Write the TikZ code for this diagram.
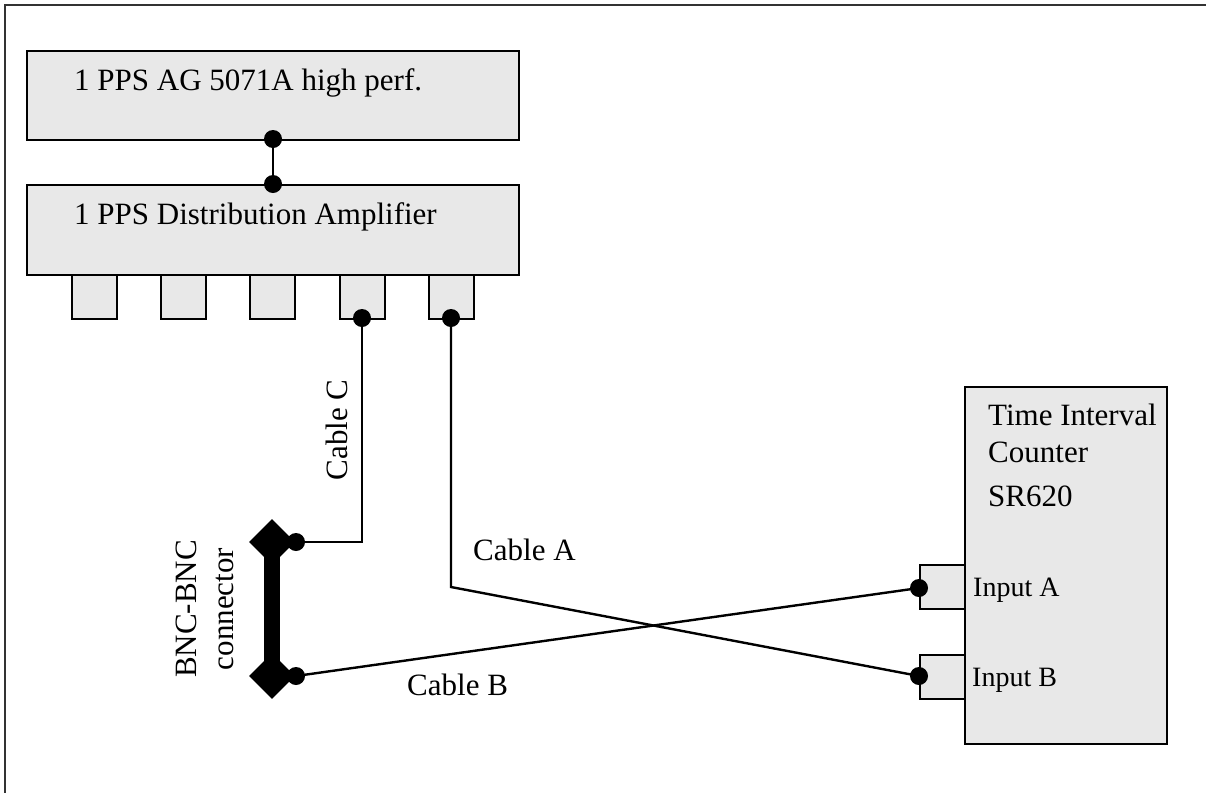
\documentclass[tikz,border=0pt]{standalone}
\usepackage{fontspec}
\setmainfont{Liberation Serif}
\usetikzlibrary{shapes.geometric}

\tikzset{
  unit/.style={draw=black, fill=black!9, line width=2.2pt, rectangle, inner sep=0pt, anchor=north west},
  port/.style={unit, minimum width=45pt, minimum height=44pt},
  plug/.style={circle, fill=black, inner sep=0pt, minimum size=18pt},
  cable/.style={line width=2.4pt, line join=miter},
  bnc/.style={diamond, fill=black, inner sep=0pt, minimum size=46pt},
  lbl/.style={font=\fontsize{31}{36}\selectfont, inner sep=0pt, anchor=base west},
  smalllbl/.style={font=\fontsize{28}{33}\selectfont, inner sep=0pt, anchor=base west},
  vlbl/.style={font=\fontsize{31}{36}\selectfont, inner sep=0pt, anchor=base, rotate=90},
}

\begin{document}
\begin{tikzpicture}[x=1pt, y=-1pt]
  \useasboundingbox (0,0) rectangle (1206,793);

  % page frame (only the top and left edges fall on the page)
  \draw[line width=2.4pt, black!80] (1206,5) -- (5,5) -- (5,793);

  % clock and distribution amplifier
  \node[unit, minimum width=492pt, minimum height=89pt] (clock) at (26,50) {};
  \node[lbl] (clocktxt) at (74,90) {1 PPS AG 5071A high perf.};
  \node[unit, minimum width=492pt, minimum height=90pt] (amp) at (26,184) {};
  \node[lbl] (amptxt) at (74,224) {1 PPS Distribution Amplifier};

  % amplifier outputs
  \node[port] (p1) at (71,274) {};
  \node[port] (p2) at (160,274) {};
  \node[port] (p3) at (249,274) {};
  \node[port] (p4) at (339,274) {};
  \node[port] (p5) at (428,274) {};

  % time interval counter
  \node[unit, minimum width=202pt, minimum height=357pt] (tic) at (964,386) {};
  \node[lbl] (tic1) at (988,425) {Time Interval};
  \node[lbl] (tic2) at (988,462) {Counter};
  \node[lbl] (tic3) at (988,506) {SR620};
  \node[port] (inA) at (919,564) {};
  \node[port] (inB) at (919,654) {};
  \node[smalllbl] (inAtxt) at (973,596) {Input A};
  \node[smalllbl] (inBtxt) at (972,686) {Input B};

  % BNC-BNC barrel
  \node[bnc] (bncT) at (272,542) {};
  \node[bnc] (bncB) at (272,676) {};
  \draw[line width=16pt] (bncT.center) -- (bncB.center);

  % connection points
  \coordinate (clockout) at (273,139);
  \coordinate (ampin) at (273,184);
  \coordinate (o4) at (362,318);
  \coordinate (o5) at (451,318);
  \coordinate (bncTpin) at (296,542);
  \coordinate (bncBpin) at (296,676);
  \coordinate (inApin) at (919,588);
  \coordinate (inBpin) at (919,676);
  \coordinate (abend) at (451,587);

  % cables
  \draw[cable] (clockout) -- (ampin);
  \draw[cable] (o4) |- (bncTpin);
  \draw[cable] (o5) -- (abend) -- (inBpin);
  \draw[cable] (bncBpin) -- (inApin);

  % plugs
  \foreach \c in {clockout, ampin, o4, o5, bncTpin, bncBpin, inApin, inBpin}
    \node[plug] at (\c) {};

  % cable and connector labels
  \node[lbl] (cA) at (473,560) {Cable A};
  \node[lbl] (cB) at (407,695) {Cable B};
  \node[vlbl] (cC) at (347,430) {Cable C};
  \node[vlbl] (bnc1) at (196,609) {BNC-BNC};
  \node[vlbl] (bnc2) at (233,609) {connector};
\end{tikzpicture}
\end{document}
